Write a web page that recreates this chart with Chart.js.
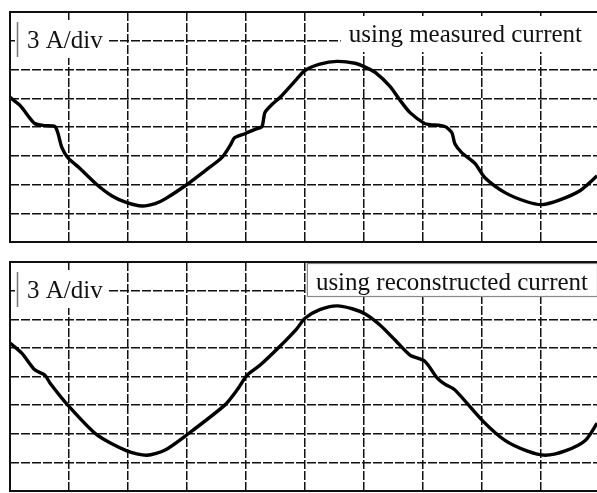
<!DOCTYPE html>
<html>
<head>
<meta charset="utf-8">
<script src="https://cdn.jsdelivr.net/npm/chart.js@4.4.1/dist/chart.umd.min.js"></script>
<style>
  html, body { margin: 0; padding: 0; background: #fff; overflow: hidden; width: 597px; height: 493px; }
  .wrap { position: absolute; left: 0; width: 602px; }
</style>
</head>
<body>
<div class="wrap" style="top:0px;height:246px;"><canvas id="top" width="602" height="246"></canvas></div>
<div class="wrap" style="top:250px;height:243px;"><canvas id="bot" width="602" height="243"></canvas></div>
<script>
// time in divisions, current in A (3 A/div)
const measuredT = [0, 0.17, 0.34, 0.42, 0.59, 0.76, 0.81, 0.88, 0.98, 1.19, 1.47, 1.73, 1.98, 2.24, 2.46, 2.63, 3.0, 3.31, 3.59, 3.73, 3.81, 3.98, 4.15, 4.27, 4.32, 4.44, 4.58, 4.86, 5.0, 5.25, 5.54, 5.85, 6.02, 6.19, 6.44, 6.61, 6.78, 7.03, 7.12, 7.37, 7.49, 7.54, 7.66, 7.88, 8.05, 8.39, 8.76, 9.02, 9.32, 9.66, 9.95];
const measuredI = [3.1, 2.25, 0.9, 0.35, 0.15, 0.05, -0.6, -2.15, -3.2, -4.35, -6.0, -7.2, -7.9, -8.25, -8.0, -7.5, -6.0, -4.55, -3.2, -1.95, -1.1, -0.7, -0.25, 0.05, 1.5, 2.35, 3.1, 5.0, 5.9, 6.55, 6.85, 6.65, 6.25, 5.7, 4.25, 2.8, 1.5, 0.35, 0.25, 0.05, -0.6, -1.75, -2.7, -3.8, -5.3, -6.85, -7.8, -8.1, -7.6, -6.65, -5.1];
const reconT = [0, 0.2, 0.42, 0.59, 0.68, 0.98, 1.47, 1.98, 2.32, 2.63, 3.0, 3.64, 3.85, 4.02, 4.24, 4.58, 4.86, 5.0, 5.25, 5.54, 5.8, 6.02, 6.27, 6.53, 6.78, 7.03, 7.24, 7.37, 7.54, 8.02, 8.39, 8.76, 9.07, 9.41, 9.75, 9.95];
const reconI = [3.5, 2.45, 0.7, 0.15, -0.7, -3.0, -6.1, -7.8, -8.25, -7.7, -6.1, -3.0, -1.4, 0.15, 1.2, 3.2, 5.0, 6.1, 7.0, 7.4, 7.1, 6.55, 5.4, 3.8, 2.25, 1.6, -0.15, -0.8, -1.4, -4.7, -6.7, -7.8, -8.25, -7.8, -6.7, -4.9];
const scaleLabel = "3 A/div";
const topLabel = "using measured current";
const botLabel = "using reconstructed current";

const FONT = '25px "Liberation Serif", "Times New Roman", serif';

function labelPlugin(rightText, boxed) {
  return {
    id: 'labels',
    beforeDatasetsDraw(chart) {
      const ctx = chart.ctx;
      const a = chart.chartArea;
      ctx.save();
      // left label
      ctx.fillStyle = '#fff';
      ctx.fillRect(a.left + 5, a.top + 8, 94, 38);
      ctx.strokeStyle = '#777';
      ctx.lineWidth = 1.5;
      ctx.beginPath();
      ctx.moveTo(a.left + 7.5, a.top + 10);
      ctx.lineTo(a.left + 7.5, a.top + 45);
      ctx.stroke();
      ctx.fillStyle = '#111';
      ctx.font = FONT;
      ctx.textBaseline = 'alphabetic';
      ctx.fillText(scaleLabel, a.left + 17, a.top + 36);
      // right label
      ctx.font = FONT;
      const w = ctx.measureText(rightText).width;
      if (boxed) {
        const x0 = 589 - w - 10;
        ctx.fillStyle = '#fff';
        ctx.fillRect(x0, a.top + 2, w + 18, 33);
        ctx.strokeStyle = '#888';
        ctx.lineWidth = 1.2;
        ctx.strokeRect(x0 + 0.5, a.top + 1.5, w + 18, 33);
        ctx.fillStyle = '#111';
        ctx.fillText(rightText, x0 + 9, a.top + 28);
      } else {
        const x0 = 582 - w;
        ctx.fillStyle = '#fff';
        ctx.fillRect(x0 - 8, a.top + 4, w + 30, 36);
        ctx.fillStyle = '#111';
        ctx.fillText(rightText, x0, a.top + 30);
      }
      ctx.restore();
    },
    afterDraw(chart) {
      const ctx = chart.ctx;
      const a = chart.chartArea;
      ctx.save();
      ctx.strokeStyle = '#111';
      ctx.lineWidth = 2;
      ctx.strokeRect(a.left, a.top, a.right - a.left, a.bottom - a.top);
      ctx.restore();
    }
  };
}

function makeChart(id, T, I, rightText, boxed, pad) {
  const pts = T.map((t, i) => ({ x: t, y: I[i] }));
  return new Chart(document.getElementById(id), {
    type: 'line',
    data: {
      datasets: [{
        data: pts,
        borderColor: '#000',
        borderWidth: 3.4,
        pointRadius: 0,
        tension: 0.25,
        fill: false
      }]
    },
    options: {
      responsive: false,
      animation: false,
      layout: { padding: pad },
      plugins: { legend: { display: false }, tooltip: { enabled: false } },
      scales: {
        x: {
          type: 'linear', min: 0, max: 10,
          ticks: { display: false, stepSize: 1 },
          grid: { color: '#111', lineWidth: 1.5, drawTicks: false },
          border: { display: false, dash: [9, 2] }
        },
        y: {
          min: -12, max: 12,
          ticks: { display: false, stepSize: 3 },
          grid: { color: '#111', lineWidth: 1.5, drawTicks: false },
          border: { display: false, dash: [9, 2] }
        }
      }
    },
    plugins: [labelPlugin(rightText, boxed)]
  });
}

makeChart('top', measuredT, measuredI, topLabel, false, { left: 10, top: 12, right: 2, bottom: 4 });
makeChart('bot', reconT, reconI, botLabel, true, { left: 10, top: 12, right: 2, bottom: 2 });
</script>
</body>
</html>
